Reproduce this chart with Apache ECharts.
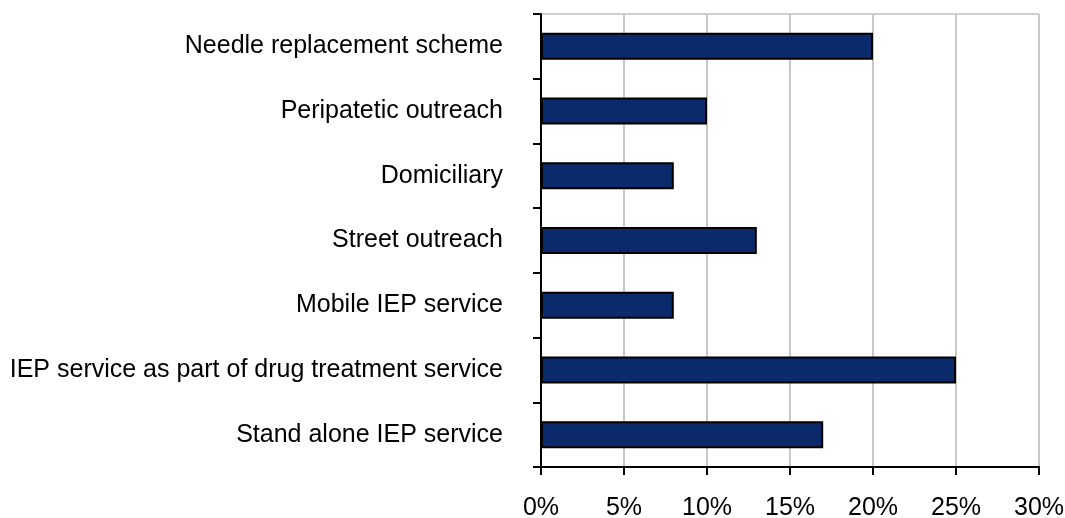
<!DOCTYPE html>
<html>
<head>
<meta charset="utf-8">
<script src="https://cdn.jsdelivr.net/npm/echarts@6/dist/echarts.min.js"></script>
<style>
  html, body { margin: 0; padding: 0; background: #fff; }
  #chart { width: 1065px; height: 518px; }
</style>
</head>
<body>
<div id="chart"></div>
<script>
// categories top to bottom
var categories = [
  'Needle replacement scheme',
  'Peripatetic outreach',
  'Domiciliary',
  'Street outreach',
  'Mobile IEP service',
  'IEP service as part of drug treatment service',
  'Stand alone IEP service'
]
// percent of services
var values = [20, 10, 8, 13, 8, 25, 17]

var chart = echarts.init(document.getElementById('chart'))
var option = {
  animation: false,
  grid: {
    left: 541,
    right: 26,
    top: 14,
    bottom: 51,
    outerBoundsMode: 'none',
    show: true,
    borderColor: '#a0a0a0',
    borderWidth: 1
  },
  xAxis: {
    type: 'value',
    min: 0,
    max: 30,
    interval: 5,
    axisLine: { show: true, lineStyle: { color: '#000', width: 2 } },
    axisTick: { show: true, length: 8, lineStyle: { color: '#000', width: 2 } },
    axisLabel: {
      formatter: '{value}%',
      color: '#000',
      fontFamily: 'Liberation Sans',
      fontSize: 25,
      margin: 29
    },
    splitLine: { show: true, lineStyle: { color: '#c8c8c8', width: 2 } }
  },
  yAxis: {
    type: 'category',
    inverse: true,
    data: categories,
    axisLine: { show: true, lineStyle: { color: '#000', width: 2 } },
    axisTick: { show: true, length: 8, alignWithLabel: false, lineStyle: { color: '#000', width: 2 } },
    axisLabel: {
      color: '#000',
      fontFamily: 'Liberation Sans',
      fontSize: 25,
      margin: 38
    },
    splitLine: { show: false }
  },
  series: [
    {
      type: 'bar',
      data: values,
      barWidth: 27,
      itemStyle: {
        color: '#0b2a6b',
        borderColor: '#000',
        borderWidth: 2
      }
    }
  ]
}
chart.setOption(option)
</script>
</body>
</html>
